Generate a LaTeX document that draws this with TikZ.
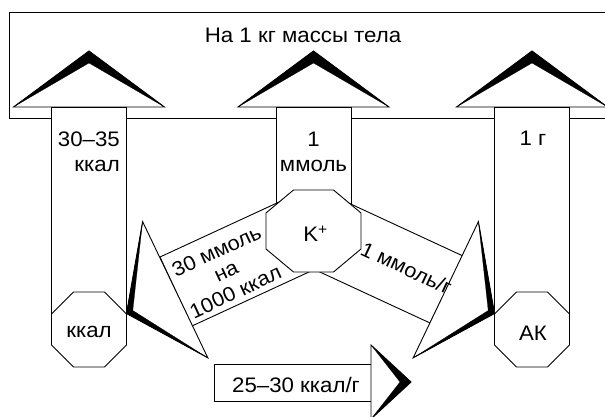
\documentclass[tikz,border=0pt]{standalone}
\usepackage{fontspec}
\setmainfont{Liberation Sans}[FakeStretch=1.06]
% octagon outline: centre x, centre y, half width, half height, corner cut in x, corner cut in y
\newcommand\octshape[6]{%
  \path[outline] ({#1-#3},{#2-#4+#6}) -- ({#1-#3+#5},{#2-#4}) -- ({#1+#3-#5},{#2-#4})
    -- ({#1+#3},{#2-#4+#6}) -- ({#1+#3},{#2+#4-#6}) -- ({#1+#3-#5},{#2+#4})
    -- ({#1-#3+#5},{#2+#4}) -- ({#1-#3},{#2+#4-#6}) -- cycle;}
% arrow head: base corner, apex, base corner, inner notch point
\newcommand\headshape[4]{%
  \path[outline] (#1) -- (#2) -- (#3) -- cycle;
  \path[chevron] (#1) -- (#2) -- (#3) -- (#4) -- cycle;}
\begin{document}
\begin{tikzpicture}[x=1pt,y=-1pt,
  outline/.style={draw=black, line width=0.9pt, fill=white, line join=miter},
  chevron/.style={fill=black, draw=black, line width=0.2pt, line join=miter},
  txt/.style={font=\fontsize{21}{25}\selectfont, inner sep=0pt},
]
\useasboundingbox (0,0) rectangle (605,417);
\clip (0,0) rectangle (605,417);

% frame for the body mass reference
\draw[line width=1pt, fill=white] (9,13) rectangle (640,119);

% vertical shafts
\path[outline] (51.5,107) rectangle (126.5,329);
\path[outline] (276,107) rectangle (351,231);
\path[outline] (494.5,107) rectangle (569.5,329);

% slanted bands leaving the potassium octagon
\path[outline] (160,257) -- (192,326) -- (319.1,267.3) -- (287.1,198.3) -- cycle;
\path[outline] (463,256) -- (430,323) -- (303,264.2) -- (336,197.2) -- cycle;

% octagons
\octshape{313.5}{231}{47.5}{41}{27.5}{23}
\octshape{89}{329.5}{37.5}{37.5}{22}{22}
\octshape{532}{329.5}{37.5}{37.5}{22}{22}

% arrow heads at the top
\coordinate (hlA) at (13.5,107);  \coordinate (hlB) at (89,51);    \coordinate (hlC) at (164.5,107); \coordinate (hlD) at (89,63);
\coordinate (hmA) at (238,107);   \coordinate (hmB) at (313.5,51); \coordinate (hmC) at (389,107);   \coordinate (hmD) at (313.5,63);
\coordinate (hrA) at (456.5,107); \coordinate (hrB) at (532,51);   \coordinate (hrC) at (607.5,107); \coordinate (hrD) at (532,63);
\headshape{hlA}{hlB}{hlC}{hlD}
\headshape{hmA}{hmB}{hmC}{hmD}
\headshape{hrA}{hrB}{hrC}{hrD}

% arrow heads at the ends of the slanted bands
\coordinate (slA) at (142.6,221.6); \coordinate (slB) at (126.5,313.5); \coordinate (slC) at (207.8,357.8); \coordinate (slD) at (132.8,310.5);
\coordinate (srA) at (478.4,221.6); \coordinate (srB) at (494.5,313.5); \coordinate (srC) at (413.2,357.8); \coordinate (srD) at (488.2,310.5);
\headshape{slA}{slB}{slC}{slD}
\headshape{srA}{srB}{srC}{srD}

% horizontal arrow at the bottom
\node[draw, line width=0.9pt, fill=white, minimum width=157pt, minimum height=37pt, inner sep=0pt] (ratebox) at (292.5,382.5) {};
\coordinate (hbA) at (371,345); \coordinate (hbB) at (411,382); \coordinate (hbC) at (371,419); \coordinate (hbD) at (400,382);
\headshape{hbA}{hbB}{hbC}{hbD}

% labels
\node[txt, anchor=base] (title) at (303,42.3) {На 1 кг массы тела};
\node[txt, anchor=north east, align=right] (energy) at (120,131.5) {30–35\\ккал};
\node[txt, anchor=north, align=center] (potassium) at (313.5,131.5) {1\\ммоль};
\node[txt, anchor=base] (protein) at (533,146) {1 г};
\node[txt, anchor=base] (kcal) at (89,337.3) {ккал};
\node[txt, anchor=base] (amino) at (533,340) {АК};
\node[txt, anchor=base] (kion) at (315.5,241.7) {K\textsuperscript{+}};
\node[txt, anchor=base] (ratetext) at (296,392) {25–30 ккал/г};
\node[txt, align=center, rotate=25, font=\fontsize{20.5}{22.5}\selectfont] (perkcal) at (226,271.5) {30 ммоль\\на\\1000 ккал};
\node[txt, rotate=-25, font=\fontsize{20.5}{22.5}\selectfont] (perg) at (406.5,268) {1 ммоль/г};
\end{tikzpicture}
\end{document}
